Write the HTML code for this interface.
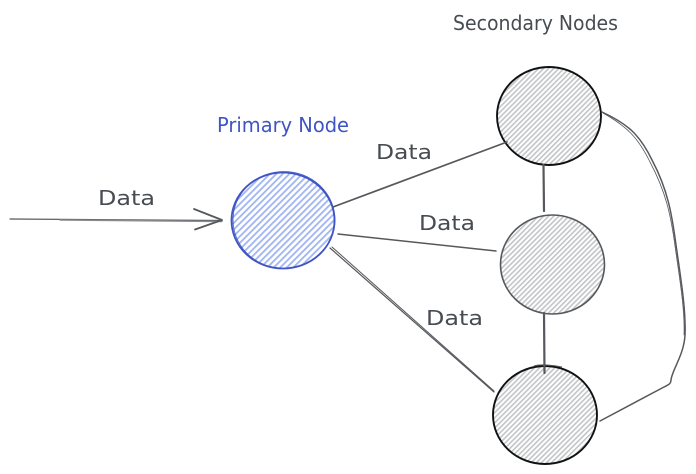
<!DOCTYPE html>
<html>
<head>
<meta charset="utf-8">
<style>
html,body{margin:0;padding:0;background:#fff;width:696px;height:474px;overflow:hidden}
svg{display:block}
text{font-family:"DejaVu Sans",sans-serif;font-size:20px}
</style>
</head>
<body>
<svg width="696" height="474" viewBox="0 0 696 474" xmlns="http://www.w3.org/2000/svg">
<defs>
<pattern id="hb" width="4.6" height="4.6" patternUnits="userSpaceOnUse" patternTransform="rotate(-45)">
<rect x="0" y="0" width="4.6" height="1.9" fill="#a3b7f3"/>
</pattern>
<pattern id="hg" width="3.6" height="3.6" patternUnits="userSpaceOnUse" patternTransform="rotate(-45)">
<rect x="0" y="0" width="3.6" height="1.6" fill="#c2c4c6"/>
</pattern>
</defs>

<!-- circles -->
<ellipse cx="283" cy="220.5" rx="51.5" ry="48" fill="url(#hb)" stroke="#3f55c4" stroke-width="1.8"/>
<ellipse cx="284" cy="220" rx="51" ry="48.5" fill="none" stroke="#3f55c4" stroke-width=".8"/>
<ellipse cx="549" cy="116" rx="52" ry="49" fill="url(#hg)" stroke="#111" stroke-width="1.9"/>
<ellipse cx="552.5" cy="264.5" rx="52" ry="49.5" fill="url(#hg)" stroke="#55585c" stroke-width="1.6"/>
<ellipse cx="545" cy="415" rx="52" ry="49" fill="url(#hg)" stroke="#111" stroke-width="1.9"/>
<path d="M534 366 C540 364 552 365 562 367" fill="none" stroke="#55585c" stroke-width="1"/>

<!-- connectors -->
<g fill="none" stroke="#55585c" stroke-width="1.5" stroke-linecap="round" stroke-linejoin="round">
<path d="M10 219 L222 220.5" stroke-width="1.2"/>
<path d="M60 220 L222 221.5" stroke="#8a8d90" stroke-width="1.4"/>
<path d="M194 209 L222 220 L195 229.5" stroke-width="1.8"/>
<path d="M333 207 L507 142" stroke-width="1.7"/>
<path d="M338 234 L496 251" stroke-width="1.5"/>
<path d="M330 248 L494 392" stroke-width="1.2"/>
<path d="M332 247 L494 391" stroke-width="1"/>
<path d="M543.5 165 L544 211" stroke-width="2.2"/>
<path d="M544 313 L544.5 373" stroke-width="2.2"/>
<path d="M602 112 C628 124 640 135 652 160 C668 190 672 215 676 245 C681 280 686 310 685 335 C684 355 672 370 671 380 C671 384 668 385 664 387 L600 421" stroke-width="1.5"/>
<path d="M603 113 C626 126 638 137 650 162 C666 192 671 216 675 246 C680 281 685 311 684 335" stroke-width=".8"/>
</g>

<!-- labels -->
<text x="217" y="132" fill="#3f55c4" textLength="132" lengthAdjust="spacingAndGlyphs">Primary Node</text>
<text x="453" y="30" fill="#474b52" textLength="165" lengthAdjust="spacingAndGlyphs">Secondary Nodes</text>
<text x="98" y="205" fill="#474b52" textLength="57" lengthAdjust="spacingAndGlyphs">Data</text>
<text x="376" y="159" fill="#474b52" textLength="56" lengthAdjust="spacingAndGlyphs">Data</text>
<text x="419" y="230" fill="#474b52" textLength="56" lengthAdjust="spacingAndGlyphs">Data</text>
<text x="426" y="325" fill="#474b52" textLength="57" lengthAdjust="spacingAndGlyphs">Data</text>
</svg>
</body>
</html>
